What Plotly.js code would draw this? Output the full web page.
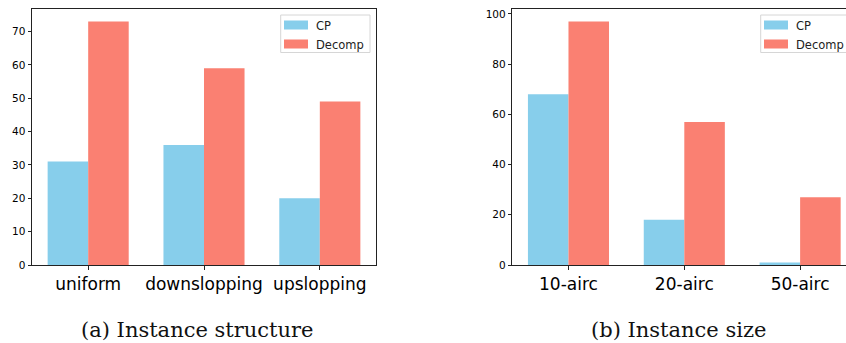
<!DOCTYPE html>
<html>
<head>
<meta charset="utf-8">
<script src="https://cdn.plot.ly/plotly-3.0.1.min.js"></script>
<style>
  html, body { margin: 0; padding: 0; overflow: hidden; background: #fff; }
  #chart { width: 900px; height: 343px; }
</style>
</head>
<body>
<div id="chart"></div>
<script>
// ---- data ----
const structureCategories = ["uniform", "downslopping", "upslopping"];
const structureCP = [31, 36, 20];
const structureDecomp = [73, 59, 49];

const sizeCategories = ["10-airc", "20-airc", "50-airc"];
const sizeCP = [68, 18, 1];
const sizeDecomp = [97, 57, 27];

const seriesNames = ["CP", "Decomp"];
const seriesColors = ["#87CEEB", "#FA8072"];
const captions = ["(a) Instance structure", "(b) Instance size"];

// ---- layout helpers (pixels -> paper) ----
const W = 900, H = 343;
const px = v => v / W;
const py = v => (H - v) / H;

const traces = [
  { type: "bar", name: seriesNames[0], x: structureCategories, y: structureCP,
    marker: { color: seriesColors[0] }, xaxis: "x", yaxis: "y", legend: "legend" },
  { type: "bar", name: seriesNames[1], x: structureCategories, y: structureDecomp,
    marker: { color: seriesColors[1] }, xaxis: "x", yaxis: "y", legend: "legend" },
  { type: "bar", name: seriesNames[0], x: sizeCategories, y: sizeCP,
    marker: { color: seriesColors[0] }, xaxis: "x2", yaxis: "y2", legend: "legend2" },
  { type: "bar", name: seriesNames[1], x: sizeCategories, y: sizeDecomp,
    marker: { color: seriesColors[1] }, xaxis: "x2", yaxis: "y2", legend: "legend2" }
];

const axisLine = { showline: true, linecolor: "#222", linewidth: 1, mirror: true,
  showgrid: false, zeroline: false, ticks: "outside", ticklen: 3.5, tickwidth: 1, tickcolor: "#222" };

const yDomain = [py(265), py(9.3)];

const xCommon = Object.assign({}, axisLine, {
  type: "category", range: [-0.485, 2.485],
  tickfont: { family: "DejaVu Sans", size: 17, color: "#000" }
});
const yCommon = Object.assign({}, axisLine, {
  tickfont: { family: "DejaVu Sans", size: 10.5, color: "#000" }
});

const legendCommon = {
  xanchor: "left", yanchor: "top",
  bgcolor: "rgba(0,0,0,0)", borderwidth: 0,
  font: { family: "DejaVu Sans", size: 11.5, color: "#222" },
  traceorder: "normal", tracegroupgap: 0, itemwidth: 30
};

const frameStyle = { type: "rect", xref: "paper", yref: "paper",
  line: { color: "#d6d6d6", width: 1 }, fillcolor: "rgba(255,255,255,0.8)", layer: "below" };

const layout = {
  width: W, height: H,
  margin: { l: 0, r: 0, t: 0, b: 0 },
  paper_bgcolor: "#fff", plot_bgcolor: "rgba(0,0,0,0)",
  barmode: "group", bargap: 0.3, bargroupgap: 0,
  xaxis: Object.assign({}, xCommon, { domain: [px(32), px(376)], anchor: "y" }),
  yaxis: Object.assign({}, yCommon, { domain: yDomain, range: [0, 76.65], dtick: 10, anchor: "x" }),
  xaxis2: Object.assign({}, xCommon, { domain: [px(512.3), px(856.3)], anchor: "y2" }),
  yaxis2: Object.assign({}, yCommon, { domain: yDomain, range: [0, 101.85], dtick: 20, anchor: "x2" }),
  legend: Object.assign({}, legendCommon, { x: px(276), y: py(10.5) }),
  legend2: Object.assign({}, legendCommon, { x: px(756), y: py(10.5) }),
  showlegend: true,
  shapes: [
    Object.assign({}, frameStyle, { x0: px(280.7), x1: px(370), y0: py(52.5), y1: py(15) }),
    Object.assign({}, frameStyle, { x0: px(760.7), x1: px(852), y0: py(52.5), y1: py(15) })
  ],
  annotations: [
    { text: captions[0], xref: "paper", yref: "paper", x: px(197.3), y: py(330),
      xanchor: "center", yanchor: "middle", showarrow: false,
      font: { family: "DejaVu Serif", size: 21, color: "#111" } },
    { text: captions[1], xref: "paper", yref: "paper", x: px(678), y: py(330),
      xanchor: "center", yanchor: "middle", showarrow: false,
      font: { family: "DejaVu Serif", size: 21, color: "#111" } }
  ]
};

Plotly.newPlot("chart", traces, layout, { displayModeBar: false, staticPlot: true }).then(gd => {
  // widen legend patches to matplotlib-like proportions
  gd.querySelectorAll(".legendpoints path").forEach(p => {
    p.setAttribute("d", "M12,4.5H-12V-4.5H12Z");
  });
});
</script>
</body>
</html>
